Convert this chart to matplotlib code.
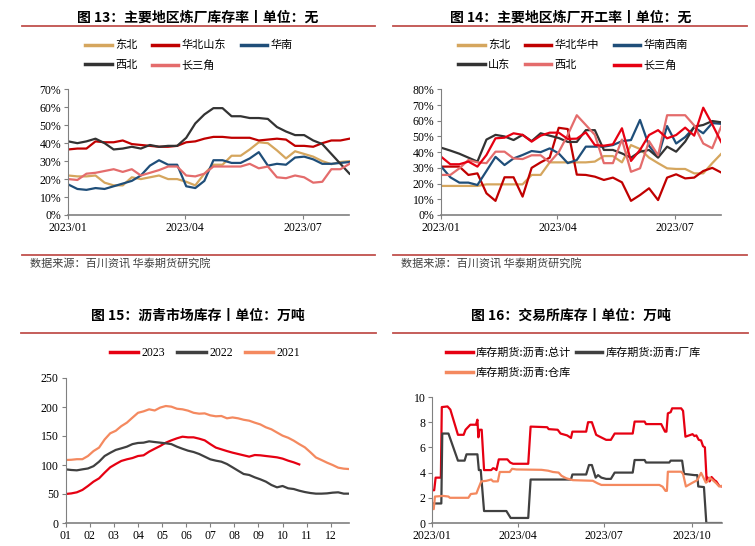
import matplotlib
matplotlib.use("Agg")
import matplotlib.pyplot as plt
import matplotlib.dates as mdates
from matplotlib.lines import Line2D
from matplotlib.ticker import FuncFormatter, MultipleLocator
import numpy as np
import pandas as pd

plt.rcParams['font.family'] = ['Noto Sans CJK SC', 'DejaVu Sans']

W, H = 755, 546

# ---- 图13 炼厂库存率 (%), weekly ----
weeks = pd.date_range('2023-01-01', periods=32, freq='7D')
inv_dongbei = [22, 21.5, 21.5, 22, 18, 16.5, 16.5, 21, 20, 21, 22, 20, 20, 18.5, 16.5, 23,
               28, 28, 33, 33, 36.5, 40.5, 40, 36, 31.5, 35.5, 34, 32.5, 30, 28.3, 29.5, 30]
inv_huabei = [36.5, 37, 37, 41, 40.5, 40.5, 41.5, 39.5, 39, 38.5, 38, 38, 38.5, 40.5, 41, 42.5,
              43.5, 43.5, 43, 43, 43, 41.5, 42, 42.5, 42, 38.5, 38.5, 38, 40, 41.5, 41.5, 42.5]
inv_huanan = [17, 14.5, 14, 15, 14.5, 16, 17.5, 19, 22, 27.5, 30.5, 28, 28, 16, 15, 19,
              30.5, 30.5, 29, 29, 31.5, 35, 27.5, 28.5, 28, 32, 32.5, 31, 28.5, 28.5, 29, 29.5]
inv_xibei = [41, 40, 41, 42.5, 40, 36.5, 37, 38, 37, 39, 38, 38.5, 38.5, 43, 51, 56,
             59.5, 59.5, 55, 55, 54, 54, 53.5, 49, 46.5, 44.5, 44.5, 41.5, 39.5, 34, 28.5, 23]
inv_csj = [20, 19.5, 23, 23.5, 24.5, 25.5, 24, 25.5, 22, 23.5, 25, 27, 27, 22, 21.5, 23,
           27, 27, 27, 27, 28.5, 26, 27, 21, 20.5, 22, 21, 18, 18.5, 25.5, 25.5, 28.5]

# ---- 图14 炼厂开工率 (%), weekly ----
run_dongbei = [18.5, 18.5, 18.5, 18.5, 18.5, 19.5, 19.5, 19.5, 19.5, 19.5, 25.5, 25.5, 33.5, 33.5, 33.5, 33.5,
               33.5, 34, 37.5, 37.5, 33.5, 44.5, 42, 36.5, 33, 29.7, 29.3, 29.3, 26.5, 26.5, 33, 39]
run_huabei = [30.8, 30.8, 30.8, 25.5, 26.5, 13.8, 9, 24, 24, 11.7, 30, 33.5, 36.5, 55.5, 54.7, 25.7,
              25.5, 24.4, 22.3, 23.8, 20.8, 9, 12.7, 17, 9.5, 23.8, 25.9, 23.3, 23.8, 28, 30, 27]
run_huanan = [30.8, 24, 20.6, 20.6, 19.1, 28, 37, 31.8, 36, 38.2, 40.7, 40, 42.4, 39.2, 33, 35,
              43.5, 43.5, 43.5, 44.5, 47, 47.7, 60.5, 44, 37, 56.6, 45.5, 49.6, 55.8, 52, 58.5, 58]
run_shandong = [42.8, 41, 39, 36.5, 34, 48, 51, 50, 47.7, 51, 47, 52, 50.5, 49, 46.5, 46.5,
                54, 54, 41.4, 41.4, 39.2, 36.5, 40.3, 41.4, 36.5, 43.5, 40.3, 46.7, 56.2, 57.3, 59.8, 59]
run_xibei = [25.5, 25.5, 29.7, 35, 33.5, 33, 40.3, 40.3, 36, 35.6, 38, 38, 33.5, 40, 51, 63.5,
             57.3, 51, 33, 33, 48, 27.5, 29.7, 47, 38, 63.5, 63.5, 63.5, 57, 45.5, 42.5, 56.5]
run_csj = [37, 32.3, 32.3, 34, 30.8, 38.2, 48.8, 49.2, 52, 51, 46.7, 50.5, 52.4, 52.4, 48.4, 48.6,
           52.6, 44.5, 44.1, 45, 55.2, 34.4, 41.4, 50.9, 54, 48.8, 50.9, 55.6, 50.5, 68.3, 57.7, 46.3]

# ---- 图15 沥青市场库存 (万吨), weekly ----
mkt_2021 = [108.6, 109, 110, 110, 115.5, 124, 130, 144, 154.6, 159, 167, 173, 181.6, 190, 192.5, 196,
            194, 199, 201.7, 200.6, 197, 196, 193.7, 190, 188.5, 189, 185.6, 184, 184.5, 180.5, 182, 180.5,
            178, 176.4, 173, 170, 165, 161.5, 156, 150.6, 147, 142, 136, 130.5, 122, 113, 108.6, 104,
            100, 95.4, 93.7, 93]
mkt_2022 = [92.5, 91.4, 90.8, 92.5, 94, 98, 105.7, 115.5, 121, 126, 128.7, 131.6, 136, 138, 138.5, 140.8,
            139.6, 138.5, 137.4, 136, 131.6, 128, 124.7, 122.4, 119, 114.4, 109.8, 107.5, 105.7, 101.7, 96, 90.2,
            84.5, 82.8, 78.7, 75.3, 71.3, 65.5, 61.5, 63.8, 59.8, 58.6, 55.7, 53.4, 51.7, 50.6, 50.6, 51.1,
            52.3, 52.9, 50.6, 50.6]
mkt_2023 = [50, 51, 52.9, 57, 63.8, 71.3, 77, 86.8, 96, 101.7, 107, 109.8, 112, 115.5, 116.7, 123,
            128, 132.8, 138.5, 142.5, 146, 148.8, 147.7, 147.7, 145.4, 142.5, 136, 130, 127, 124, 121.3, 119,
            116.7, 114.4, 117.2, 116.7, 115.5, 114.4, 113.2, 111, 107.5, 104.6, 101]
month_labels = ['01', '02', '03', '04', '05', '06', '07', '08', '09', '10', '11', '12']

# ---- 图16 交易所库存 (万吨), day of 2023 -> value ----
total_day = [0, 2, 3.5, 9, 10, 16, 19, 27, 33, 35, 40, 46, 47.5, 48.5, 49.5, 52, 54.5, 62, 64, 66, 67.5, 70,
             79, 82, 85, 101, 103.5, 115, 121, 122.5, 132, 135, 142, 146, 147.5, 162, 164, 168, 172.5, 175,
             183, 188, 192, 211, 213, 223.5, 225, 241, 245, 246.5, 248, 251, 252.5, 262, 264, 266.5, 274,
             276, 278, 280.5, 283, 285, 287, 288.8, 290, 292, 294, 297, 299, 302, 305]
total_val = [2.6, 2.6, 3.6, 3.6, 9.2, 9.25, 9.0, 7.0, 7.0, 7.4, 7.8, 7.8, 8.2, 6.8, 7.4, 7.4, 4.2, 4.2, 4.35,
             4.3, 4.2, 5.05, 5.05, 4.8, 4.7, 4.7, 7.65, 7.62, 7.6, 7.45, 7.4, 7.1, 6.95, 6.75, 7.25, 7.25,
             8.0, 8.0, 7.0, 6.9, 6.6, 6.6, 7.1, 7.1, 8.05, 8.05, 7.85, 7.85, 7.25, 7.25, 8.7, 8.8, 9.1, 9.1,
             8.9, 6.85, 7.05, 6.9, 6.95, 6.6, 6.55, 6.1, 6.0, 3.4, 3.6, 3.3, 3.65, 3.4, 3.3, 2.95, 2.9]
factory_day = [0, 9.5, 10.5, 17, 27, 34, 36, 47.5, 49, 51, 54.5, 78, 82.5, 101, 103.5, 146, 147.5, 162,
               165, 168, 172, 174.5, 178, 183, 188, 192, 211, 213, 223.5, 225, 249.5, 251, 263, 265, 276,
               279, 280, 286, 288.5, 305]
factory_val = [1.55, 1.55, 7.1, 7.1, 4.95, 4.95, 5.45, 5.45, 4.2, 4.2, 0.95, 0.95, 0.4, 0.4, 3.45, 3.45,
               3.85, 3.85, 4.6, 4.6, 3.6, 3.8, 3.6, 3.5, 3.5, 4.0, 4.0, 5.0, 5.0, 4.8, 4.8, 4.95, 4.95, 3.9,
               3.8, 3.8, 2.9, 2.85, 0.0, 0.0]
ware_day = [0, 1.5, 2.8, 11.5, 17, 18.5, 38, 40.5, 46.5, 48, 51.5, 57, 62, 64, 69, 71, 81.5, 84, 88.5, 115,
            122, 127, 133, 136, 141, 148, 169, 174, 178, 239, 242.5, 245.5, 247, 248, 262, 264, 267, 274,
            279, 283, 285.5, 288, 290, 292, 296, 299, 302, 305]
ware_val = [1.15, 1.1, 2.1, 2.15, 2.1, 2.0, 2.0, 2.3, 2.35, 2.65, 3.3, 3.35, 3.45, 3.3, 3.3, 4.05, 4.05,
            4.3, 4.25, 4.22, 4.15, 4.05, 4.0, 3.75, 3.55, 3.4, 3.35, 3.15, 3.02, 3.02, 2.88, 2.55, 2.55,
            4.07, 4.07, 3.9, 2.9, 3.2, 3.4, 3.98, 3.6, 3.2, 3.3, 3.6, 3.35, 3.15, 2.9, 2.95]

C_TAN, C_DRED, C_BLUE, C_BLACK = '#D5A65E', '#C00000', '#1F4E79', '#333333'
C_PINK, C_RED, C_GRAY, C_ORANGE = '#E46C6C', '#E60012', '#404040', '#F4895F'
C_RULE = '#C0504D'
SERIF = 'Liberation Serif'


def rect(l, t, r, b):
    return [l / W, 1 - b / H, (r - l) / W, (b - t) / H]


def fx(x):
    return x / W


def fy(y):
    return 1 - y / H


def header(cx, cy, x0, x1, ly, title):
    fig.text(fx(cx), fy(cy), title, ha='center', va='center', fontsize=10, fontweight='bold')
    fig.add_artist(Line2D([fx(x0), fx(x1)], [fy(ly), fy(ly)], color=C_RULE, lw=1.3))


def source(x0, x1, ly, tx):
    fig.add_artist(Line2D([fx(x0), fx(x1)], [fy(ly), fy(ly)], color=C_RULE, lw=1.3))
    fig.text(fx(tx), fy(ly + 8), '数据来源：百川资讯 华泰期货研究院', va='center', fontsize=8, color='#404040')


def style(ax):
    for s in ['top', 'right']:
        ax.spines[s].set_visible(False)
    for s in ['left', 'bottom']:
        ax.spines[s].set_color('#808080')
    ax.spines['bottom'].set_linewidth(1.2)
    ax.tick_params(colors='#808080', labelcolor='black', length=3, width=0.8, labelsize=8.5, pad=2)
    plt.setp(ax.get_xticklabels() + ax.get_yticklabels(), fontfamily=SERIF)


def legend(handles, labels, x, y, ncol, colsp, prop=None):
    leg = fig.legend(handles, labels, loc='upper left', bbox_to_anchor=(fx(x), fy(y)), ncol=ncol,
                     frameon=False, fontsize=8, prop=prop, borderpad=0, borderaxespad=0,
                     handlelength=2.4, handletextpad=0.3, columnspacing=colsp, labelspacing=0.85)
    for h in leg.get_lines():
        h.set_linewidth(2.5)
    return leg


fig = plt.figure(figsize=(W / 100, H / 100), dpi=100)
pct = FuncFormatter(lambda v, p: f'{v:.0f}%')
q_ticks = pd.to_datetime(['2023-01-01', '2023-04-01', '2023-07-01'])

# ---------- 图13 ----------
header(198, 18, 22, 375, 26, '图 13：主要地区炼厂库存率丨单位：无')
ax1 = fig.add_axes(rect(68.3, 89.3, 349.5, 215))
l1 = ax1.plot(weeks, inv_dongbei, color=C_TAN, lw=1.6)[0]
l2 = ax1.plot(weeks, inv_huabei, color=C_DRED, lw=1.6)[0]
l3 = ax1.plot(weeks, inv_huanan, color=C_BLUE, lw=1.6)[0]
l4 = ax1.plot(weeks, inv_xibei, color=C_BLACK, lw=1.6)[0]
l5 = ax1.plot(weeks, inv_csj, color=C_PINK, lw=1.6)[0]
ax1.set_ylim(0, 70)
ax1.yaxis.set_major_locator(MultipleLocator(10))
ax1.yaxis.set_major_formatter(pct)
ax1.set_xlim(weeks[0], weeks[-1])
ax1.set_xticks(q_ticks)
ax1.xaxis.set_major_formatter(mdates.DateFormatter('%Y/%m'))
style(ax1)
legend([l1, l4, l2, l5, l3], ['东北', '西北', '华北山东', '长三角', '华南'], 85, 40, 3, 1.3)
source(22, 375, 255, 30)

# ---------- 图14 ----------
header(570.5, 18, 393, 747, 26, '图 14：主要地区炼厂开工率丨单位：无')
ax2 = fig.add_axes(rect(441.3, 89.3, 721.3, 215))
m1 = ax2.plot(weeks, run_dongbei, color=C_TAN, lw=1.6)[0]
m2 = ax2.plot(weeks, run_huabei, color=C_DRED, lw=1.6)[0]
m3 = ax2.plot(weeks, run_huanan, color=C_BLUE, lw=1.6)[0]
m4 = ax2.plot(weeks, run_shandong, color=C_BLACK, lw=1.6)[0]
m5 = ax2.plot(weeks, run_xibei, color=C_PINK, lw=1.6)[0]
m6 = ax2.plot(weeks, run_csj, color=C_RED, lw=1.6)[0]
ax2.set_ylim(0, 80)
ax2.yaxis.set_major_locator(MultipleLocator(10))
ax2.yaxis.set_major_formatter(pct)
ax2.set_xlim(weeks[0], weeks[-1])
ax2.set_xticks(q_ticks)
ax2.xaxis.set_major_formatter(mdates.DateFormatter('%Y/%m'))
style(ax2)
legend([m1, m4, m2, m5, m3, m6], ['东北', '山东', '华北华中', '西北', '华南西南', '长三角'], 458, 40, 3, 1.3)
source(393, 747, 255, 401)

# ---------- 图15 ----------
header(197.5, 315.7, 21, 376, 333, '图 15：沥青市场库存丨单位：万吨')
ax3 = fig.add_axes(rect(65.7, 378, 349.3, 523))
p1 = ax3.plot(np.arange(len(mkt_2023)), mkt_2023, color=C_RED, lw=1.6)[0]
p2 = ax3.plot(np.arange(len(mkt_2022)), mkt_2022, color=C_GRAY, lw=1.6)[0]
p3 = ax3.plot(np.arange(len(mkt_2021)), mkt_2021, color=C_ORANGE, lw=1.6)[0]
ax3.set_ylim(0, 250)
ax3.yaxis.set_major_locator(MultipleLocator(50))
ax3.set_xlim(0, len(mkt_2021) - 1)
ax3.set_xticks(np.arange(12) * len(mkt_2021) / 12)
ax3.set_xticklabels(month_labels)
style(ax3)
legend([p1, p2, p3], ['2023', '2022', '2021'], 110, 347, 3, 1.0,
       prop={'family': SERIF, 'size': 8.5})

# ---------- 图16 ----------
header(570.5, 315.7, 393, 748, 333, '图 16：交易所库存丨单位：万吨')
ax4 = fig.add_axes(rect(432.3, 397, 722, 523))
t0 = pd.Timestamp('2023-01-01')
q1 = ax4.plot(t0 + pd.to_timedelta(total_day, 'D'), total_val, color=C_RED, lw=1.6)[0]
q2 = ax4.plot(t0 + pd.to_timedelta(factory_day, 'D'), factory_val, color=C_GRAY, lw=1.6)[0]
q3 = ax4.plot(t0 + pd.to_timedelta(ware_day, 'D'), ware_val, color=C_ORANGE, lw=1.6)[0]
ax4.set_ylim(0, 10)
ax4.yaxis.set_major_locator(MultipleLocator(2))
ax4.set_xlim(t0, t0 + pd.Timedelta(days=305))
ax4.set_xticks(pd.to_datetime(['2023-01-01', '2023-04-01', '2023-07-01', '2023-10-01']))
ax4.xaxis.set_major_formatter(mdates.DateFormatter('%Y/%m'))
style(ax4)
legend([q1, q3, q2], ['库存期货:沥青:总计', '库存期货:沥青:仓库', '库存期货:沥青:厂库'], 446, 347, 2, 0.4)

fig.savefig('out.png', dpi=100)
